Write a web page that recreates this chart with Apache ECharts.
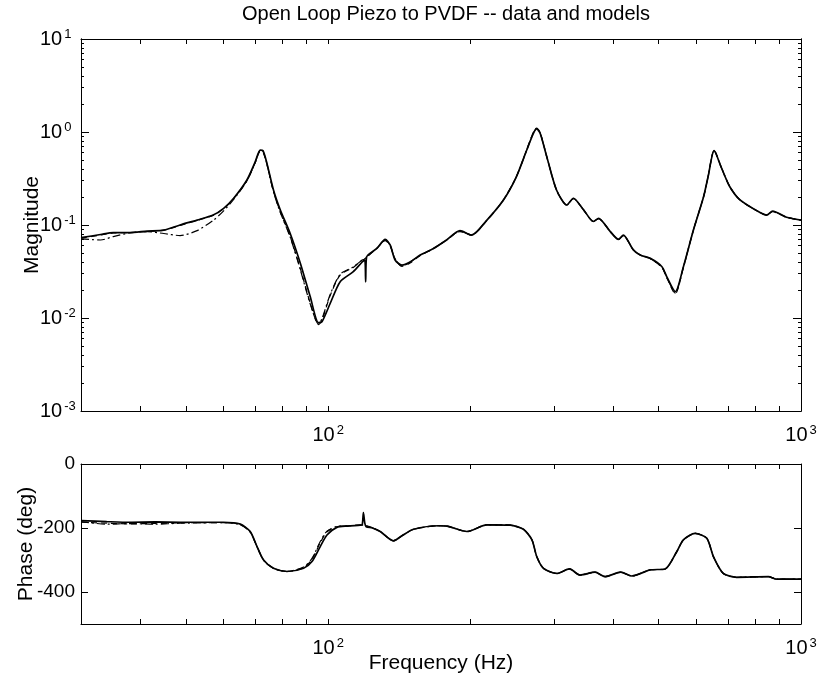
<!DOCTYPE html>
<html><head><meta charset="utf-8">
<script src="https://cdn.jsdelivr.net/npm/echarts@6/dist/echarts.min.js"></script>
<style>html,body{margin:0;padding:0;background:#fff}#c{width:817px;height:682px}</style>
</head><body><div id="c"></div>
<script>
// ---------- data ----------
const magFreq = [30, 33, 35.1, 38, 41.4, 44.9, 48.6, 52.8, 57.1, 60.1,
  63.1, 67.3, 70.1, 71.8, 72.8, 74.2, 76.6, 79.2, 83.1, 87.3,
  91.6, 95.4, 97, 101, 106, 113, 118, 119.5, 120, 120.5,
  126.7, 132, 135.2, 138.5, 143.2, 149, 156.5, 167, 178, 190,
  201, 216.6, 234.8, 250, 263, 271.8, 276, 280.7, 290, 304,
  319.6, 330, 347, 364, 373, 395, 411, 421, 442, 457,
  480, 508, 520, 542, 564, 592, 622, 636, 655, 679,
  707, 743, 819, 846, 871, 932, 1000];
const magData = [0.073, 0.079, 0.083, 0.083, 0.086, 0.088, 0.100, 0.113, 0.128, 0.151,
  0.194, 0.305, 0.48, 0.64, 0.63, 0.46, 0.238, 0.145, 0.081, 0.0388,
  0.017, 0.0089, 0.0091, 0.0144, 0.0246, 0.0315, 0.040, 0.042, 0.0245, 0.045,
  0.056, 0.070, 0.061, 0.042, 0.037, 0.040, 0.0475, 0.056, 0.069, 0.087,
  0.078, 0.113, 0.186, 0.33, 0.64, 0.97, 1.077, 0.97, 0.54, 0.238,
  0.164, 0.194, 0.145, 0.109, 0.118, 0.085, 0.070, 0.078, 0.054, 0.0475,
  0.0438, 0.0356, 0.0278, 0.0192, 0.0356, 0.088, 0.20, 0.33, 0.63, 0.41,
  0.258, 0.186, 0.136, 0.128, 0.1415, 0.121, 0.113];
const magModelA = [0.072, 0.078, 0.082, 0.083, 0.085, 0.088, 0.099, 0.112, 0.127, 0.150,
  0.192, 0.300, 0.47, 0.62, 0.61, 0.45, 0.230, 0.138, 0.075, 0.034,
  0.0145, 0.0085, 0.0095, 0.0175, 0.029, 0.035, 0.042, 0.043, 0.044, 0.045,
  0.056, 0.068, 0.060, 0.043, 0.036, 0.039, 0.047, 0.056, 0.069, 0.085,
  0.078, 0.112, 0.186, 0.33, 0.65, 1.0, 1.10, 0.99, 0.54, 0.238,
  0.164, 0.192, 0.145, 0.109, 0.117, 0.085, 0.070, 0.077, 0.054, 0.0475,
  0.0435, 0.0350, 0.0272, 0.0182, 0.0350, 0.088, 0.20, 0.33, 0.64, 0.41,
  0.258, 0.186, 0.136, 0.128, 0.139, 0.121, 0.113];
const magModelB = [0.071, 0.069, 0.075, 0.082, 0.085, 0.081, 0.077, 0.087, 0.112, 0.142,
  0.188, 0.298, 0.47, 0.63, 0.62, 0.45, 0.228, 0.136, 0.074, 0.033,
  0.0142, 0.0086, 0.0098, 0.018, 0.0295, 0.0355, 0.042, 0.0435, 0.044, 0.0455,
  0.056, 0.069, 0.060, 0.043, 0.036, 0.040, 0.047, 0.056, 0.069, 0.086,
  0.078, 0.113, 0.186, 0.33, 0.64, 0.99, 1.09, 0.98, 0.54, 0.238,
  0.164, 0.193, 0.145, 0.109, 0.117, 0.085, 0.070, 0.077, 0.054, 0.0475,
  0.0436, 0.0352, 0.0275, 0.0185, 0.0352, 0.088, 0.20, 0.33, 0.63, 0.41,
  0.258, 0.186, 0.136, 0.128, 0.140, 0.121, 0.113];

const phaseFreq = [30, 34, 38.1, 43, 48.7, 54, 60, 65.2, 68.4, 70.7,
  73, 76.6, 81.8, 88.7, 92.4, 96.2, 99.4, 104.3, 110, 116.9,
  118, 118.7, 119.5, 120.3, 124, 128.8, 137.4, 144, 151.5, 171.1,
  178.2, 196.5, 216.6, 242.6, 258.8, 269.7, 276.2, 285.3, 304.3, 323.7,
  341, 366.8, 385.1, 415.7, 438.5, 479.6, 516, 546, 564, 597,
  632, 653, 685, 731, 853, 889, 1000];
const phaseData = [-177, -180, -182, -181, -182, -182, -182, -188, -211, -258,
  -300, -326, -336, -326, -305, -258, -222, -198, -194, -191,
  -190, -152, -185, -196, -200, -211, -240, -222, -204, -193,
  -194, -211, -190, -191, -204, -237, -290, -326, -342, -328,
  -347, -338, -352, -338, -350, -331, -328, -274, -237, -217,
  -232, -290, -342, -354, -352, -360, -360];
const phaseModelA = [-182, -185, -187, -186, -184, -183, -183, -189, -212, -258,
  -300, -326, -336, -324, -298, -246, -212, -196, -193, -191,
  -191, -191, -192, -193, -199, -211, -240, -222, -204, -193,
  -194, -211, -190, -191, -204, -237, -290, -326, -342, -328,
  -347, -338, -352, -338, -350, -331, -328, -274, -237, -217,
  -232, -290, -342, -354, -352, -360, -360];
const phaseModelB = [-180, -188, -186, -188, -185, -184, -183, -190, -213, -259,
  -301, -326, -336, -322, -295, -242, -210, -195, -193, -191,
  -191, -191, -192, -193, -199, -211, -240, -222, -204, -193,
  -194, -211, -190, -191, -204, -237, -290, -326, -342, -328,
  -347, -338, -352, -338, -350, -331, -328, -274, -237, -217,
  -232, -290, -342, -354, -352, -360, -360];

const xTicks = [30, 40, 50, 60, 70, 80, 90, 100, 200, 300, 400, 500, 600, 700, 800, 900, 1000];
const xLabels = [100, 1000];
const magMajor = [0.001, 0.01, 0.1, 1, 10];
const magMinor = [0.002,0.003,0.004,0.005,0.006,0.007,0.008,0.009,
  0.02,0.03,0.04,0.05,0.06,0.07,0.08,0.09,
  0.2,0.3,0.4,0.5,0.6,0.7,0.8,0.9,
  2,3,4,5,6,7,8,9];
const phaseTicks = [0, -200, -400];

// ---------- chart ----------
const FONT = '"Liberation Sans", Arial, Helvetica, sans-serif';
const pair = (xs, ys) => xs.map((x, i) => [x, ys[i]]);
const powFmt = v => '{b|10}{s|' + Math.round(Math.log10(v)) + '}';
const powRich = {
  b: {fontSize: 20, lineHeight: 23, fontFamily: FONT, color: '#000', verticalAlign: 'middle'},
  s: {fontSize: 13, lineHeight: 23, fontFamily: FONT, color: '#000', verticalAlign: 'top', padding: [0, 0, 0, 2]}
};
const line = {show: true, onZero: false, lineStyle: {color: '#000', width: 1}};

function xAx(grid, pos, labels, extra) {
  return Object.assign({
    type: 'log', logBase: 10, gridIndex: grid, position: pos, min: 30, max: 1000,
    axisLine: line, splitLine: {show: false},
    axisTick: {show: true, inside: true, length: 5, customValues: xTicks, lineStyle: {color: '#000'}},
    axisLabel: labels ? {show: true, customValues: xLabels, formatter: powFmt, rich: powRich, margin: 13} : {show: false}
  }, extra || {});
}
function yLog(pos, ticks, len, labels, extra) {
  return Object.assign({
    type: 'log', logBase: 10, gridIndex: 0, position: pos, min: 0.001, max: 10,
    axisLine: line, splitLine: {show: false},
    axisTick: {show: true, inside: true, length: len, customValues: ticks, lineStyle: {color: '#000'}},
    axisLabel: labels ? {show: true, customValues: magMajor, formatter: powFmt, rich: powRich, margin: 41, align: 'left'} : {show: false}
  }, extra || {});
}
function yPh(pos, labels, extra) {
  return Object.assign({
    type: 'value', gridIndex: 1, position: pos, min: -500, max: 0,
    axisLine: line, splitLine: {show: false},
    axisTick: {show: true, inside: true, length: 7, customValues: phaseTicks, lineStyle: {color: '#000'}},
    axisLabel: labels ? {show: true, customValues: phaseTicks, fontSize: 19, fontFamily: FONT, color: '#000', margin: 6} : {show: false}
  }, extra || {});
}
const nameStyle = {fontSize: 21, fontFamily: FONT, color: '#000'};

const chart = echarts.init(document.getElementById('c'), null, {renderer: 'canvas'});
chart.setOption({
  animation: false,
  backgroundColor: '#fff',
  title: {text: 'Open Loop Piezo to PVDF -- data and models', left: 441, top: -1, textAlign: 'center',
    textStyle: {fontSize: 20, fontWeight: 'normal', fontFamily: FONT, color: '#000'}},
  grid: [
    {left: 81, top: 39, width: 720, height: 372, outerBoundsMode: 'none', containLabel: false},
    {left: 81, top: 464, width: 720, height: 160, outerBoundsMode: 'none', containLabel: false}
  ],
  xAxis: [
    xAx(0, 'bottom', true),
    xAx(0, 'top', false),
    xAx(1, 'bottom', true, {name: 'Frequency (Hz)', nameLocation: 'middle', nameGap: 29, nameMoveOverlap: false, nameTextStyle: nameStyle}),
    xAx(1, 'top', false)
  ],
  yAxis: [
    yLog('left', magMajor, 8, true, {name: 'Magnitude', nameLocation: 'middle', nameGap: 38, nameMoveOverlap: false, nameTextStyle: nameStyle}),
    yLog('left', magMinor, 3, false),
    yLog('right', magMajor, 8, false),
    yLog('right', magMinor, 3, false),
    yPh('left', true, {name: 'Phase (deg)', nameLocation: 'middle', nameGap: 44, nameMoveOverlap: false, nameTextStyle: nameStyle}),
    yPh('right', false)
  ],
  series: [
    {type: 'line', xAxisIndex: 0, yAxisIndex: 0, data: pair(magFreq, magModelB), showSymbol: false, smooth: 0.25,
      lineStyle: {color: '#000', width: 1.2, type: [8, 3, 2, 3]}},
    {type: 'line', xAxisIndex: 0, yAxisIndex: 0, data: pair(magFreq, magModelA), showSymbol: false, smooth: 0.25,
      lineStyle: {color: '#000', width: 1.2, type: [6, 4]}},
    {type: 'line', xAxisIndex: 0, yAxisIndex: 0, data: pair(magFreq, magData), showSymbol: false, smooth: 0.25,
      lineStyle: {color: '#000', width: 1.7}},
    {type: 'line', xAxisIndex: 2, yAxisIndex: 4, data: pair(phaseFreq, phaseModelB), showSymbol: false, smooth: 0.25,
      lineStyle: {color: '#000', width: 1.2, type: [8, 3, 2, 3]}},
    {type: 'line', xAxisIndex: 2, yAxisIndex: 4, data: pair(phaseFreq, phaseModelA), showSymbol: false, smooth: 0.25,
      lineStyle: {color: '#000', width: 1.2, type: [6, 4]}},
    {type: 'line', xAxisIndex: 2, yAxisIndex: 4, data: pair(phaseFreq, phaseData), showSymbol: false, smooth: 0.25,
      lineStyle: {color: '#000', width: 1.7}}
  ]
});
</script></body></html>
